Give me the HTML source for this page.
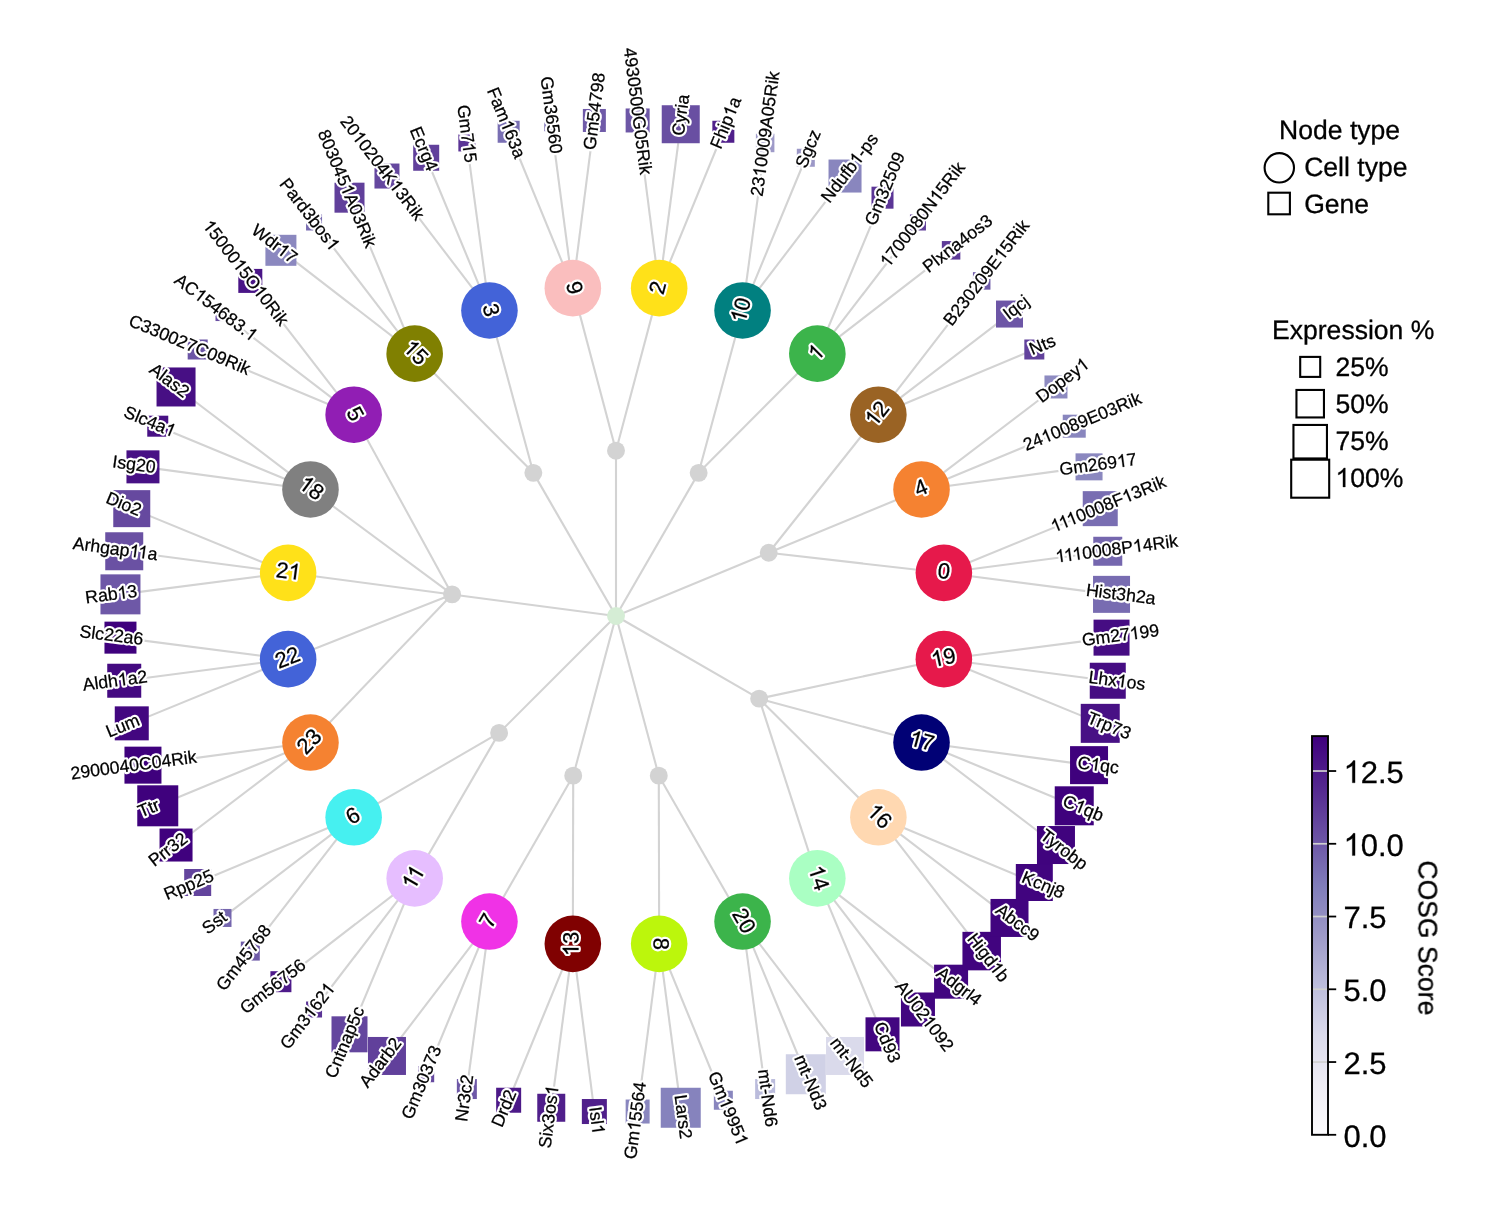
<!DOCTYPE html>
<html><head><meta charset="utf-8"><title>Chart</title>
<style>html,body{margin:0;padding:0;background:#fff;}body{width:1504px;height:1232px;position:relative;overflow:hidden;font-family:"Liberation Sans",sans-serif;}.s{fill:none;stroke:#fff;stroke-width:4.6;stroke-linejoin:round;}.f{fill:#000;stroke:#000;stroke-width:.25;}</style>
</head><body>
<svg width="1504" height="1232" viewBox="0 0 1504 1232" style="position:absolute;left:0;top:0;text-rendering:geometricPrecision;font-family:'Liberation Sans',sans-serif">
<rect width="1504" height="1232" fill="#fff"/>
<g style="opacity:0.999">
<defs><path id="o0" d="M6.60,-0.00 L5.04,-0.00 L5.04,-9.92 Q4.48,-9.38 3.56,-8.85 Q2.65,-8.31 1.93,-8.04 L1.93,-9.55 Q3.23,-10.16 4.21,-11.03 Q5.19,-11.91 5.59,-12.73 L6.60,-12.73 Z"/><path id="o1" d="M8.25,-0.00 L6.30,-0.00 L6.30,-12.40 Q5.60,-11.73 4.45,-11.06 Q3.32,-10.39 2.41,-10.05 L2.41,-11.93 Q4.04,-12.70 5.26,-13.79 Q6.49,-14.89 6.99,-15.91 L8.25,-15.91 Z"/><path id="o2" d="M9.90,-0.00 L7.56,-0.00 L7.56,-14.88 Q6.72,-14.07 5.34,-13.27 Q3.98,-12.46 2.89,-12.06 L2.89,-14.32 Q4.85,-15.24 6.32,-16.55 Q7.78,-17.86 8.39,-19.09 L9.90,-19.09 Z"/><path id="o3" d="M11.55,-0.00 L8.82,-0.00 L8.82,-17.36 Q7.84,-16.42 6.24,-15.48 Q4.65,-14.55 3.38,-14.08 L3.38,-16.71 Q5.66,-17.79 7.37,-19.31 Q9.08,-20.84 9.79,-22.28 L11.55,-22.28 Z"/><g id="L0"><text y="4.58" font-size="17.71"><tspan x="-34.95">Hist3h2a</tspan></text></g><g id="L1"><text y="4.58" font-size="17.71"><tspan x="-34.78">0008P</tspan><tspan x="26.28">4Rik</tspan></text><use href="#o0" x="-61.70" y="4.58"/><use href="#o0" x="-53.17" y="4.58"/><use href="#o0" x="-44.63" y="4.58"/><use href="#o0" x="16.43" y="4.58"/></g><g id="L2"><text y="4.58" font-size="17.71"><tspan x="-34.29">0008F</tspan><tspan x="25.78">3Rik</tspan></text><use href="#o0" x="-61.21" y="4.58"/><use href="#o0" x="-52.67" y="4.58"/><use href="#o0" x="-44.14" y="4.58"/><use href="#o0" x="15.93" y="4.58"/></g><g id="L3"><text y="4.58" font-size="17.71"><tspan x="-38.89">Gm269</tspan><tspan x="29.04">7</tspan></text><use href="#o0" x="19.19" y="4.58"/></g><g id="L4"><text y="4.58" font-size="17.71"><tspan x="-63.02">24</tspan><tspan x="-33.47">0089E03Rik</tspan></text><use href="#o0" x="-43.32" y="4.58"/></g><g id="L5"><text y="4.58" font-size="17.71"><tspan x="-30.52">Dopey</tspan></text><use href="#o0" x="20.67" y="4.58"/></g><g id="L6"><text y="4.58" font-size="17.71"><tspan x="-13.28">Nts</tspan></text></g><g id="L7"><text y="4.58" font-size="17.71"><tspan x="-13.78">Iqcj</tspan></text></g><g id="L8"><text y="4.58" font-size="17.71"><tspan x="-64.00">B230209E</tspan><tspan x="28.57">5Rik</tspan></text><use href="#o0" x="18.72" y="4.58"/></g><g id="L9"><text y="4.58" font-size="17.71"><tspan x="-41.35">Plxna4os3</tspan></text></g><g id="L10"><text y="4.58" font-size="17.71"><tspan x="-53.66">700080N</tspan><tspan x="28.08">5Rik</tspan></text><use href="#o0" x="-63.51" y="4.58"/><use href="#o0" x="18.23" y="4.58"/></g><g id="L11"><text y="4.58" font-size="17.71"><tspan x="-38.89">Gm32509</tspan></text></g><g id="L12"><text y="4.58" font-size="17.71"><tspan x="-40.86">Ndufb</tspan><tspan x="16.25">-ps</tspan></text><use href="#o0" x="6.40" y="4.58"/></g><g id="L13"><text y="4.58" font-size="17.71"><tspan x="-19.69">Sgcz</tspan></text></g><g id="L14"><text y="4.58" font-size="17.71"><tspan x="-63.02">23</tspan><tspan x="-33.47">0009A05Rik</tspan></text><use href="#o0" x="-43.32" y="4.58"/></g><g id="L15"><text y="4.58" font-size="17.71"><tspan x="-27.08">Fhip</tspan><tspan x="17.23">a</tspan></text><use href="#o0" x="7.38" y="4.58"/></g><g id="L16"><text y="4.58" font-size="17.71"><tspan x="-20.66">Cyria</tspan></text></g><g id="L17"><text y="4.58" font-size="17.71"><tspan x="-64.00">4930500G05Rik</tspan></text></g><g id="L18"><text y="4.58" font-size="17.71"><tspan x="-38.89">Gm54798</tspan></text></g><g id="L19"><text y="4.58" font-size="17.71"><tspan x="-38.89">Gm36560</tspan></text></g><g id="L20"><text y="4.58" font-size="17.71"><tspan x="-37.41">Fam</tspan><tspan x="7.86">63a</tspan></text><use href="#o0" x="-1.99" y="4.58"/></g><g id="L21"><text y="4.58" font-size="17.71"><tspan x="-29.04">Gm7</tspan><tspan x="19.19">5</tspan></text><use href="#o0" x="9.34" y="4.58"/></g><g id="L22"><text y="4.58" font-size="17.71"><tspan x="-23.13">Ecrg4</tspan></text></g><g id="L23"><text y="4.58" font-size="17.71"><tspan x="-63.02">20</tspan><tspan x="-33.47">0204K</tspan><tspan x="27.59">3Rik</tspan></text><use href="#o0" x="-43.32" y="4.58"/><use href="#o0" x="17.74" y="4.58"/></g><g id="L24"><text y="4.58" font-size="17.71"><tspan x="-63.02">803045</tspan><tspan x="5.93">A03Rik</tspan></text><use href="#o0" x="-3.92" y="4.58"/></g><g id="L25"><text y="4.58" font-size="17.71"><tspan x="-42.83">Pard3bos</tspan></text><use href="#o0" x="32.98" y="4.58"/></g><g id="L26"><text y="4.58" font-size="17.71"><tspan x="-26.08">Wdr</tspan><tspan x="16.23">7</tspan></text><use href="#o0" x="6.38" y="4.58"/></g><g id="L27"><text y="4.58" font-size="17.71"><tspan x="-54.15">5000</tspan><tspan x="-4.90">5O</tspan><tspan x="28.57">0Rik</tspan></text><use href="#o0" x="-64.00" y="4.58"/><use href="#o0" x="-14.75" y="4.58"/><use href="#o0" x="18.72" y="4.58"/></g><g id="L28"><text y="4.58" font-size="17.71"><tspan x="-49.23">AC</tspan><tspan x="-14.78">54683.</tspan></text><use href="#o0" x="-24.63" y="4.58"/><use href="#o0" x="39.39" y="4.58"/></g><g id="L29"><text y="4.58" font-size="17.71"><tspan x="-64.98">C330027C09Rik</tspan></text></g><g id="L30"><text y="4.58" font-size="17.71"><tspan x="-22.15">Alas2</tspan></text></g><g id="L31"><text y="4.58" font-size="17.71"><tspan x="-27.08">Slc4a</tspan></text><use href="#o0" x="17.23" y="4.58"/></g><g id="L32"><text y="4.58" font-size="17.71"><tspan x="-21.66">Isg20</tspan></text></g><g id="L33"><text y="4.58" font-size="17.71"><tspan x="-18.21">Dio2</tspan></text></g><g id="L34"><text y="4.58" font-size="17.71"><tspan x="-42.67">Arhgap</tspan><tspan x="32.82">a</tspan></text><use href="#o0" x="14.44" y="4.58"/><use href="#o0" x="22.97" y="4.58"/></g><g id="L35"><text y="4.58" font-size="17.71"><tspan x="-26.09">Rab</tspan><tspan x="16.24">3</tspan></text><use href="#o0" x="6.39" y="4.58"/></g><g id="L36"><text y="4.58" font-size="17.71"><tspan x="-32.00">Slc22a6</tspan></text></g><g id="L37"><text y="4.58" font-size="17.71"><tspan x="-32.50">Aldh</tspan><tspan x="12.80">a2</tspan></text><use href="#o0" x="2.95" y="4.58"/></g><g id="L38"><text y="4.58" font-size="17.71"><tspan x="-17.23">Lum</tspan></text></g><g id="L39"><text y="4.58" font-size="17.71"><tspan x="-63.51">2900040C04Rik</tspan></text></g><g id="L40"><text y="4.58" font-size="17.71"><tspan x="-10.82">Ttr</tspan></text></g><g id="L41"><text y="4.58" font-size="17.71"><tspan x="-21.65">Prr32</tspan></text></g><g id="L42"><text y="4.58" font-size="17.71"><tspan x="-26.09">Rpp25</tspan></text></g><g id="L43"><text y="4.58" font-size="17.71"><tspan x="-12.79">Sst</tspan></text></g><g id="L44"><text y="4.58" font-size="17.71"><tspan x="-38.89">Gm45768</tspan></text></g><g id="L45"><text y="4.58" font-size="17.71"><tspan x="-38.89">Gm56756</tspan></text></g><g id="L46"><text y="4.58" font-size="17.71"><tspan x="-38.89">Gm3</tspan><tspan x="9.34">62</tspan></text><use href="#o0" x="-0.51" y="4.58"/><use href="#o0" x="29.04" y="4.58"/></g><g id="L47"><text y="4.58" font-size="17.71"><tspan x="-37.91">Cntnap5c</tspan></text></g><g id="L48"><text y="4.58" font-size="17.71"><tspan x="-28.55">Adarb2</tspan></text></g><g id="L49"><text y="4.58" font-size="17.71"><tspan x="-38.89">Gm30373</tspan></text></g><g id="L50"><text y="4.58" font-size="17.71"><tspan x="-23.62">Nr3c2</tspan></text></g><g id="L51"><text y="4.58" font-size="17.71"><tspan x="-19.19">Drd2</tspan></text></g><g id="L52"><text y="4.58" font-size="17.71"><tspan x="-31.50">Six3os</tspan></text><use href="#o0" x="21.65" y="4.58"/></g><g id="L53"><text y="4.58" font-size="17.71"><tspan x="-13.78">Isl</tspan></text><use href="#o0" x="3.93" y="4.58"/></g><g id="L54"><text y="4.58" font-size="17.71"><tspan x="-38.89">Gm</tspan><tspan x="-0.51">5564</tspan></text><use href="#o0" x="-10.36" y="4.58"/></g><g id="L55"><text y="4.58" font-size="17.71"><tspan x="-22.15">Lars2</tspan></text></g><g id="L56"><text y="4.58" font-size="17.71"><tspan x="-38.89">Gm</tspan><tspan x="-0.51">995</tspan></text><use href="#o0" x="-10.36" y="4.58"/><use href="#o0" x="29.04" y="4.58"/></g><g id="L57"><text y="4.58" font-size="17.71"><tspan x="-29.03">mt-Nd6</tspan></text></g><g id="L58"><text y="4.58" font-size="17.71"><tspan x="-29.03">mt-Nd3</tspan></text></g><g id="L59"><text y="4.58" font-size="17.71"><tspan x="-29.03">mt-Nd5</tspan></text></g><g id="L60"><text y="4.58" font-size="17.71"><tspan x="-21.17">Cd93</tspan></text></g><g id="L61"><text y="4.58" font-size="17.71"><tspan x="-41.85">AU02</tspan><tspan x="12.30">092</tspan></text><use href="#o0" x="2.45" y="4.58"/></g><g id="L62"><text y="4.58" font-size="17.71"><tspan x="-25.60">Adgrl4</tspan></text></g><g id="L63"><text y="4.58" font-size="17.71"><tspan x="-28.06">Higd</tspan><tspan x="18.21">b</tspan></text><use href="#o0" x="8.36" y="4.58"/></g><g id="L64"><text y="4.58" font-size="17.71"><tspan x="-24.61">Abcc9</tspan></text></g><g id="L65"><text y="4.58" font-size="17.71"><tspan x="-22.15">Kcnj8</tspan></text></g><g id="L66"><text y="4.58" font-size="17.71"><tspan x="-27.07">Tyrobp</tspan></text></g><g id="L67"><text y="4.58" font-size="17.71"><tspan x="-21.17">C</tspan><tspan x="1.47">qb</tspan></text><use href="#o0" x="-8.38" y="4.58"/></g><g id="L68"><text y="4.58" font-size="17.71"><tspan x="-20.67">C</tspan><tspan x="1.97">qc</tspan></text><use href="#o0" x="-7.88" y="4.58"/></g><g id="L69"><text y="4.58" font-size="17.71"><tspan x="-22.80">Trp73</tspan></text></g><g id="L70"><text y="4.58" font-size="17.71"><tspan x="-28.55">Lhx</tspan><tspan x="9.85">os</tspan></text><use href="#o0" x="0.00" y="4.58"/></g><g id="L71"><text y="4.58" font-size="17.71"><tspan x="-38.89">Gm27</tspan><tspan x="19.19">99</tspan></text><use href="#o0" x="9.34" y="4.58"/></g><g id="L72"><text y="5.72" font-size="22.14"><tspan x="-6.16">0</tspan></text></g><g id="L73"><text y="5.72" font-size="22.14"><tspan x="-6.16">4</tspan></text></g><g id="L74"><text y="5.72" font-size="22.14"><tspan x="0.00">2</tspan></text><use href="#o1" x="-12.31" y="5.72"/></g><g id="L75"><use href="#o1" x="-6.16" y="5.72"/></g><g id="L76"><text y="5.72" font-size="22.14"><tspan x="0.00">0</tspan></text><use href="#o1" x="-12.31" y="5.72"/></g><g id="L77"><text y="5.72" font-size="22.14"><tspan x="-6.16">2</tspan></text></g><g id="L78"><text y="5.72" font-size="22.14"><tspan x="-6.16">9</tspan></text></g><g id="L79"><text y="5.72" font-size="22.14"><tspan x="-6.16">3</tspan></text></g><g id="L80"><text y="5.72" font-size="22.14"><tspan x="0.00">5</tspan></text><use href="#o1" x="-12.31" y="5.72"/></g><g id="L81"><text y="5.72" font-size="22.14"><tspan x="-6.16">5</tspan></text></g><g id="L82"><text y="5.72" font-size="22.14"><tspan x="0.00">8</tspan></text><use href="#o1" x="-12.31" y="5.72"/></g><g id="L83"><text y="5.72" font-size="22.14"><tspan x="-12.31">2</tspan></text><use href="#o1" x="0.00" y="5.72"/></g><g id="L84"><text y="5.72" font-size="22.14"><tspan x="-12.31">22</tspan></text></g><g id="L85"><text y="5.72" font-size="22.14"><tspan x="-12.31">23</tspan></text></g><g id="L86"><text y="5.72" font-size="22.14"><tspan x="-6.16">6</tspan></text></g><g id="L87"><use href="#o1" x="-11.49" y="5.72"/><use href="#o1" x="-0.82" y="5.72"/></g><g id="L88"><text y="5.72" font-size="22.14"><tspan x="-6.16">7</tspan></text></g><g id="L89"><text y="5.72" font-size="22.14"><tspan x="0.00">3</tspan></text><use href="#o1" x="-12.31" y="5.72"/></g><g id="L90"><text y="5.72" font-size="22.14"><tspan x="-6.16">8</tspan></text></g><g id="L91"><text y="5.72" font-size="22.14"><tspan x="-12.31">20</tspan></text></g><g id="L92"><text y="5.72" font-size="22.14"><tspan x="0.00">4</tspan></text><use href="#o1" x="-12.31" y="5.72"/></g><g id="L93"><text y="5.72" font-size="22.14"><tspan x="0.00">6</tspan></text><use href="#o1" x="-12.31" y="5.72"/></g><g id="L94"><text y="5.72" font-size="22.14"><tspan x="0.00">7</tspan></text><use href="#o1" x="-12.31" y="5.72"/></g><g id="L95"><text y="5.72" font-size="22.14"><tspan x="0.00">9</tspan></text><use href="#o1" x="-12.31" y="5.72"/></g></defs>
<g stroke="#d3d3d3" stroke-width="2.1" fill="none" stroke-linecap="butt">
<line x1="616.00" y1="616.00" x2="768.72" y2="552.74"/>
<line x1="616.00" y1="616.00" x2="698.65" y2="472.85"/>
<line x1="616.00" y1="616.00" x2="616.00" y2="450.70"/>
<line x1="616.00" y1="616.00" x2="533.35" y2="472.85"/>
<line x1="616.00" y1="616.00" x2="452.11" y2="594.42"/>
<line x1="616.00" y1="616.00" x2="499.12" y2="732.88"/>
<line x1="616.00" y1="616.00" x2="573.22" y2="775.67"/>
<line x1="616.00" y1="616.00" x2="658.78" y2="775.67"/>
<line x1="616.00" y1="616.00" x2="759.15" y2="698.65"/>
<line x1="768.72" y1="552.74" x2="943.87" y2="572.83"/>
<line x1="768.72" y1="552.74" x2="921.53" y2="489.45"/>
<line x1="768.72" y1="552.74" x2="878.36" y2="414.68"/>
<line x1="698.65" y1="472.85" x2="817.32" y2="353.64"/>
<line x1="698.65" y1="472.85" x2="742.55" y2="310.47"/>
<line x1="616.00" y1="450.70" x2="659.17" y2="288.13"/>
<line x1="616.00" y1="450.70" x2="572.83" y2="288.13"/>
<line x1="533.35" y1="472.85" x2="489.45" y2="310.47"/>
<line x1="533.35" y1="472.85" x2="414.68" y2="353.64"/>
<line x1="452.11" y1="594.42" x2="353.64" y2="414.68"/>
<line x1="452.11" y1="594.42" x2="310.47" y2="489.45"/>
<line x1="452.11" y1="594.42" x2="288.13" y2="572.83"/>
<line x1="452.11" y1="594.42" x2="288.13" y2="659.17"/>
<line x1="452.11" y1="594.42" x2="310.47" y2="742.55"/>
<line x1="499.12" y1="732.88" x2="353.64" y2="817.32"/>
<line x1="499.12" y1="732.88" x2="414.68" y2="878.36"/>
<line x1="573.22" y1="775.67" x2="489.45" y2="921.53"/>
<line x1="573.22" y1="775.67" x2="572.83" y2="943.87"/>
<line x1="658.78" y1="775.67" x2="659.17" y2="943.87"/>
<line x1="658.78" y1="775.67" x2="742.55" y2="921.53"/>
<line x1="759.15" y1="698.65" x2="817.32" y2="878.36"/>
<line x1="759.15" y1="698.65" x2="878.36" y2="817.32"/>
<line x1="759.15" y1="698.65" x2="921.53" y2="742.55"/>
<line x1="759.15" y1="698.65" x2="943.87" y2="659.17"/>
<line x1="943.87" y1="572.83" x2="1111.53" y2="594.36"/>
<line x1="943.87" y1="572.83" x2="1107.76" y2="551.26"/>
<line x1="943.87" y1="572.83" x2="1100.24" y2="508.65"/>
<line x1="921.53" y1="489.45" x2="1089.04" y2="466.85"/>
<line x1="921.53" y1="489.45" x2="1074.24" y2="426.19"/>
<line x1="921.53" y1="489.45" x2="1055.96" y2="386.97"/>
<line x1="878.36" y1="414.68" x2="1034.32" y2="349.50"/>
<line x1="878.36" y1="414.68" x2="1009.50" y2="314.05"/>
<line x1="878.36" y1="414.68" x2="981.69" y2="280.91"/>
<line x1="817.32" y1="353.64" x2="951.09" y2="250.31"/>
<line x1="817.32" y1="353.64" x2="917.95" y2="222.50"/>
<line x1="817.32" y1="353.64" x2="882.50" y2="197.68"/>
<line x1="742.55" y1="310.47" x2="845.03" y2="176.04"/>
<line x1="742.55" y1="310.47" x2="805.81" y2="157.76"/>
<line x1="742.55" y1="310.47" x2="765.15" y2="142.96"/>
<line x1="659.17" y1="288.13" x2="723.35" y2="131.76"/>
<line x1="659.17" y1="288.13" x2="680.74" y2="124.24"/>
<line x1="659.17" y1="288.13" x2="637.64" y2="120.47"/>
<line x1="572.83" y1="288.13" x2="594.36" y2="120.47"/>
<line x1="572.83" y1="288.13" x2="551.26" y2="124.24"/>
<line x1="572.83" y1="288.13" x2="508.65" y2="131.76"/>
<line x1="489.45" y1="310.47" x2="466.85" y2="142.96"/>
<line x1="489.45" y1="310.47" x2="426.19" y2="157.76"/>
<line x1="489.45" y1="310.47" x2="386.97" y2="176.04"/>
<line x1="414.68" y1="353.64" x2="349.50" y2="197.68"/>
<line x1="414.68" y1="353.64" x2="314.05" y2="222.50"/>
<line x1="414.68" y1="353.64" x2="280.91" y2="250.31"/>
<line x1="353.64" y1="414.68" x2="250.31" y2="280.91"/>
<line x1="353.64" y1="414.68" x2="222.50" y2="314.05"/>
<line x1="353.64" y1="414.68" x2="197.68" y2="349.50"/>
<line x1="310.47" y1="489.45" x2="176.04" y2="386.97"/>
<line x1="310.47" y1="489.45" x2="157.76" y2="426.19"/>
<line x1="310.47" y1="489.45" x2="142.96" y2="466.85"/>
<line x1="288.13" y1="572.83" x2="131.76" y2="508.65"/>
<line x1="288.13" y1="572.83" x2="124.24" y2="551.26"/>
<line x1="288.13" y1="572.83" x2="120.47" y2="594.36"/>
<line x1="288.13" y1="659.17" x2="120.47" y2="637.64"/>
<line x1="288.13" y1="659.17" x2="124.24" y2="680.74"/>
<line x1="288.13" y1="659.17" x2="131.76" y2="723.35"/>
<line x1="310.47" y1="742.55" x2="142.96" y2="765.15"/>
<line x1="310.47" y1="742.55" x2="157.76" y2="805.81"/>
<line x1="310.47" y1="742.55" x2="176.04" y2="845.03"/>
<line x1="353.64" y1="817.32" x2="197.68" y2="882.50"/>
<line x1="353.64" y1="817.32" x2="222.50" y2="917.95"/>
<line x1="353.64" y1="817.32" x2="250.31" y2="951.09"/>
<line x1="414.68" y1="878.36" x2="280.91" y2="981.69"/>
<line x1="414.68" y1="878.36" x2="314.05" y2="1009.50"/>
<line x1="414.68" y1="878.36" x2="349.50" y2="1034.32"/>
<line x1="489.45" y1="921.53" x2="386.97" y2="1055.96"/>
<line x1="489.45" y1="921.53" x2="426.19" y2="1074.24"/>
<line x1="489.45" y1="921.53" x2="466.85" y2="1089.04"/>
<line x1="572.83" y1="943.87" x2="508.65" y2="1100.24"/>
<line x1="572.83" y1="943.87" x2="551.26" y2="1107.76"/>
<line x1="572.83" y1="943.87" x2="594.36" y2="1111.53"/>
<line x1="659.17" y1="943.87" x2="637.64" y2="1111.53"/>
<line x1="659.17" y1="943.87" x2="680.74" y2="1107.76"/>
<line x1="659.17" y1="943.87" x2="723.35" y2="1100.24"/>
<line x1="742.55" y1="921.53" x2="765.15" y2="1089.04"/>
<line x1="742.55" y1="921.53" x2="805.81" y2="1074.24"/>
<line x1="742.55" y1="921.53" x2="845.03" y2="1055.96"/>
<line x1="817.32" y1="878.36" x2="882.50" y2="1034.32"/>
<line x1="817.32" y1="878.36" x2="917.95" y2="1009.50"/>
<line x1="817.32" y1="878.36" x2="951.09" y2="981.69"/>
<line x1="878.36" y1="817.32" x2="981.69" y2="951.09"/>
<line x1="878.36" y1="817.32" x2="1009.50" y2="917.95"/>
<line x1="878.36" y1="817.32" x2="1034.32" y2="882.50"/>
<line x1="921.53" y1="742.55" x2="1055.96" y2="845.03"/>
<line x1="921.53" y1="742.55" x2="1074.24" y2="805.81"/>
<line x1="921.53" y1="742.55" x2="1089.04" y2="765.15"/>
<line x1="943.87" y1="659.17" x2="1100.24" y2="723.35"/>
<line x1="943.87" y1="659.17" x2="1107.76" y2="680.74"/>
<line x1="943.87" y1="659.17" x2="1111.53" y2="637.64"/>
</g>
<circle cx="616.0" cy="616.0" r="8.95" fill="#d5edd5"/>
<circle cx="768.72" cy="552.74" r="8.95" fill="#d3d3d3"/>
<circle cx="698.65" cy="472.85" r="8.95" fill="#d3d3d3"/>
<circle cx="616.00" cy="450.70" r="8.95" fill="#d3d3d3"/>
<circle cx="533.35" cy="472.85" r="8.95" fill="#d3d3d3"/>
<circle cx="452.11" cy="594.42" r="8.95" fill="#d3d3d3"/>
<circle cx="499.12" cy="732.88" r="8.95" fill="#d3d3d3"/>
<circle cx="573.22" cy="775.67" r="8.95" fill="#d3d3d3"/>
<circle cx="658.78" cy="775.67" r="8.95" fill="#d3d3d3"/>
<circle cx="759.15" cy="698.65" r="8.95" fill="#d3d3d3"/>
<rect x="1093.03" y="575.86" width="37" height="37" fill="#786cb1"/>
<rect x="1093.26" y="536.76" width="29" height="29" fill="#7567ae"/>
<rect x="1082.74" y="491.15" width="35" height="35" fill="#796eb2"/>
<rect x="1075.54" y="453.35" width="27" height="27" fill="#8b88bf"/>
<rect x="1062.74" y="414.69" width="23" height="23" fill="#8986be"/>
<rect x="1044.46" y="375.47" width="23" height="23" fill="#8e8bc1"/>
<rect x="1024.32" y="339.50" width="20" height="20" fill="#62429c"/>
<rect x="996.00" y="300.55" width="27" height="27" fill="#6d56a6"/>
<rect x="972.94" y="272.16" width="17.5" height="17.5" fill="#705da9"/>
<rect x="941.84" y="241.06" width="18.5" height="18.5" fill="#5e3b98"/>
<rect x="909.95" y="214.50" width="16" height="16" fill="#603f9a"/>
<rect x="871.50" y="186.68" width="22" height="22" fill="#5b3596"/>
<rect x="828.53" y="159.54" width="33" height="33" fill="#8986be"/>
<rect x="796.81" y="148.76" width="18" height="18" fill="#9c98c7"/>
<rect x="755.90" y="133.71" width="18.5" height="18.5" fill="#9e9ac8"/>
<rect x="712.35" y="120.76" width="22" height="22" fill="#501f8b"/>
<rect x="661.74" y="105.24" width="38" height="38" fill="#694fa2"/>
<rect x="625.64" y="108.47" width="24" height="24" fill="#6d57a6"/>
<rect x="582.86" y="108.97" width="23" height="23" fill="#6f5aa8"/>
<rect x="544.26" y="117.24" width="14" height="14" fill="#796eb2"/>
<rect x="497.65" y="120.76" width="22" height="22" fill="#796fb3"/>
<rect x="458.35" y="134.46" width="17" height="17" fill="#5b3596"/>
<rect x="413.19" y="144.76" width="26" height="26" fill="#61409b"/>
<rect x="374.47" y="163.54" width="25" height="25" fill="#65489f"/>
<rect x="334.50" y="182.68" width="30" height="30" fill="#61409b"/>
<rect x="306.05" y="214.50" width="16" height="16" fill="#786cb1"/>
<rect x="265.41" y="234.81" width="31" height="31" fill="#8b88bf"/>
<rect x="238.31" y="268.91" width="24" height="24" fill="#4a1587"/>
<rect x="215.50" y="307.05" width="14" height="14" fill="#694fa2"/>
<rect x="187.68" y="339.50" width="20" height="20" fill="#6c56a6"/>
<rect x="156.54" y="367.47" width="39" height="39" fill="#470f84"/>
<rect x="147.26" y="415.69" width="21" height="21" fill="#481185"/>
<rect x="126.46" y="450.35" width="33" height="33" fill="#481185"/>
<rect x="113.26" y="490.15" width="37" height="37" fill="#66499f"/>
<rect x="105.24" y="532.26" width="38" height="38" fill="#6a51a3"/>
<rect x="100.47" y="574.36" width="40" height="40" fill="#6e58a7"/>
<rect x="104.47" y="621.64" width="32" height="32" fill="#3f007d"/>
<rect x="107.24" y="663.74" width="34" height="34" fill="#440a81"/>
<rect x="114.76" y="706.35" width="34" height="34" fill="#430780"/>
<rect x="124.46" y="746.65" width="37" height="37" fill="#3f007d"/>
<rect x="137.26" y="785.31" width="41" height="41" fill="#3f007d"/>
<rect x="159.54" y="828.53" width="33" height="33" fill="#40017e"/>
<rect x="184.18" y="869.00" width="27" height="27" fill="#63449d"/>
<rect x="213.50" y="908.95" width="18" height="18" fill="#7566ae"/>
<rect x="240.81" y="941.59" width="19" height="19" fill="#6f5ba8"/>
<rect x="270.41" y="971.19" width="21" height="21" fill="#4e1b8a"/>
<rect x="306.05" y="1001.50" width="16" height="16" fill="#5b3495"/>
<rect x="331.50" y="1016.32" width="36" height="36" fill="#64469e"/>
<rect x="367.97" y="1036.96" width="38" height="38" fill="#61409b"/>
<rect x="418.19" y="1066.24" width="16" height="16" fill="#66499f"/>
<rect x="456.85" y="1079.04" width="20" height="20" fill="#6e58a7"/>
<rect x="496.15" y="1087.74" width="25" height="25" fill="#4c1988"/>
<rect x="537.26" y="1093.76" width="28" height="28" fill="#501f8b"/>
<rect x="581.86" y="1099.03" width="25" height="25" fill="#501f8b"/>
<rect x="625.64" y="1099.53" width="24" height="24" fill="#8a87bf"/>
<rect x="660.74" y="1087.76" width="40" height="40" fill="#8683bd"/>
<rect x="713.85" y="1090.74" width="19" height="19" fill="#8986be"/>
<rect x="755.15" y="1079.04" width="20" height="20" fill="#bbbcdc"/>
<rect x="785.81" y="1054.24" width="40" height="40" fill="#d0d1e6"/>
<rect x="826.03" y="1036.96" width="38" height="38" fill="#dadaeb"/>
<rect x="865.50" y="1017.32" width="34" height="34" fill="#420680"/>
<rect x="900.95" y="992.50" width="34" height="34" fill="#420680"/>
<rect x="934.09" y="964.69" width="34" height="34" fill="#420680"/>
<rect x="962.44" y="931.84" width="38.5" height="38.5" fill="#41047f"/>
<rect x="990.50" y="898.95" width="38" height="38" fill="#41047f"/>
<rect x="1015.82" y="864.00" width="37" height="37" fill="#41047f"/>
<rect x="1036.96" y="826.03" width="38" height="38" fill="#40037e"/>
<rect x="1054.74" y="786.31" width="39" height="39" fill="#3f007d"/>
<rect x="1070.04" y="746.15" width="38" height="38" fill="#3f007d"/>
<rect x="1080.74" y="703.85" width="39" height="39" fill="#481185"/>
<rect x="1089.76" y="662.74" width="36" height="36" fill="#460d83"/>
<rect x="1093.53" y="619.64" width="36" height="36" fill="#460d83"/>
<circle cx="943.87" cy="572.83" r="28.3" fill="#e6194b"/>
<circle cx="921.53" cy="489.45" r="28.3" fill="#f58231"/>
<circle cx="878.36" cy="414.68" r="28.3" fill="#9a6324"/>
<circle cx="817.32" cy="353.64" r="28.3" fill="#3cb44b"/>
<circle cx="742.55" cy="310.47" r="28.3" fill="#008080"/>
<circle cx="659.17" cy="288.13" r="28.3" fill="#ffe119"/>
<circle cx="572.83" cy="288.13" r="28.3" fill="#fabebe"/>
<circle cx="489.45" cy="310.47" r="28.3" fill="#4363d8"/>
<circle cx="414.68" cy="353.64" r="28.3" fill="#808000"/>
<circle cx="353.64" cy="414.68" r="28.3" fill="#911eb4"/>
<circle cx="310.47" cy="489.45" r="28.3" fill="#808080"/>
<circle cx="288.13" cy="572.83" r="28.3" fill="#ffe119"/>
<circle cx="288.13" cy="659.17" r="28.3" fill="#4363d8"/>
<circle cx="310.47" cy="742.55" r="28.3" fill="#f58231"/>
<circle cx="353.64" cy="817.32" r="28.3" fill="#46f0f0"/>
<circle cx="414.68" cy="878.36" r="28.3" fill="#e6beff"/>
<circle cx="489.45" cy="921.53" r="28.3" fill="#f032e6"/>
<circle cx="572.83" cy="943.87" r="28.3" fill="#800000"/>
<circle cx="659.17" cy="943.87" r="28.3" fill="#bcf60c"/>
<circle cx="742.55" cy="921.53" r="28.3" fill="#3cb44b"/>
<circle cx="817.32" cy="878.36" r="28.3" fill="#aaffc3"/>
<circle cx="878.36" cy="817.32" r="28.3" fill="#ffd8b1"/>
<circle cx="921.53" cy="742.55" r="28.3" fill="#000075"/>
<circle cx="943.87" cy="659.17" r="28.3" fill="#e6194b"/>
<g>
<use href="#L0" class="s" transform="translate(1120.65,595.54) rotate(7.32)"/><use href="#L0" class="f" transform="translate(1120.65,595.54) rotate(7.32)"/>
<use href="#L1" class="s" transform="translate(1116.88,550.06) rotate(-7.50)"/><use href="#L1" class="f" transform="translate(1116.88,550.06) rotate(-7.50)"/>
<use href="#L2" class="s" transform="translate(1108.75,505.15) rotate(-22.32)"/><use href="#L2" class="f" transform="translate(1108.75,505.15) rotate(-22.32)"/>
<use href="#L3" class="s" transform="translate(1098.16,465.62) rotate(-7.68)"/><use href="#L3" class="f" transform="translate(1098.16,465.62) rotate(-7.68)"/>
<use href="#L4" class="s" transform="translate(1082.74,422.67) rotate(-22.50)"/><use href="#L4" class="f" transform="translate(1082.74,422.67) rotate(-22.50)"/>
<use href="#L5" class="s" transform="translate(1063.27,381.40) rotate(-37.32)"/><use href="#L5" class="f" transform="translate(1063.27,381.40) rotate(-37.32)"/>
<use href="#L6" class="s" transform="translate(1042.81,345.95) rotate(-22.68)"/><use href="#L6" class="f" transform="translate(1042.81,345.95) rotate(-22.68)"/>
<use href="#L7" class="s" transform="translate(1016.80,308.45) rotate(-37.50)"/><use href="#L7" class="f" transform="translate(1016.80,308.45) rotate(-37.50)"/>
<use href="#L8" class="s" transform="translate(987.31,273.63) rotate(-52.32)"/><use href="#L8" class="f" transform="translate(987.31,273.63) rotate(-52.32)"/>
<use href="#L9" class="s" transform="translate(958.37,244.69) rotate(-37.68)"/><use href="#L9" class="f" transform="translate(958.37,244.69) rotate(-37.68)"/>
<use href="#L10" class="s" transform="translate(923.55,215.20) rotate(-52.50)"/><use href="#L10" class="f" transform="translate(923.55,215.20) rotate(-52.50)"/>
<use href="#L11" class="s" transform="translate(886.05,189.19) rotate(-67.32)"/><use href="#L11" class="f" transform="translate(886.05,189.19) rotate(-67.32)"/>
<use href="#L12" class="s" transform="translate(850.60,168.73) rotate(-52.68)"/><use href="#L12" class="f" transform="translate(850.60,168.73) rotate(-52.68)"/>
<use href="#L13" class="s" transform="translate(809.33,149.26) rotate(-67.50)"/><use href="#L13" class="f" transform="translate(809.33,149.26) rotate(-67.50)"/>
<use href="#L14" class="s" transform="translate(766.38,133.84) rotate(-82.32)"/><use href="#L14" class="f" transform="translate(766.38,133.84) rotate(-82.32)"/>
<use href="#L15" class="s" transform="translate(726.85,123.25) rotate(-67.68)"/><use href="#L15" class="f" transform="translate(726.85,123.25) rotate(-67.68)"/>
<use href="#L16" class="s" transform="translate(681.94,115.12) rotate(-82.50)"/><use href="#L16" class="f" transform="translate(681.94,115.12) rotate(-82.50)"/>
<use href="#L17" class="s" transform="translate(636.46,111.35) rotate(82.68)"/><use href="#L17" class="f" transform="translate(636.46,111.35) rotate(82.68)"/>
<use href="#L18" class="s" transform="translate(595.54,111.35) rotate(-82.68)"/><use href="#L18" class="f" transform="translate(595.54,111.35) rotate(-82.68)"/>
<use href="#L19" class="s" transform="translate(550.06,115.12) rotate(82.50)"/><use href="#L19" class="f" transform="translate(550.06,115.12) rotate(82.50)"/>
<use href="#L20" class="s" transform="translate(505.15,123.25) rotate(67.68)"/><use href="#L20" class="f" transform="translate(505.15,123.25) rotate(67.68)"/>
<use href="#L21" class="s" transform="translate(465.62,133.84) rotate(82.32)"/><use href="#L21" class="f" transform="translate(465.62,133.84) rotate(82.32)"/>
<use href="#L22" class="s" transform="translate(422.67,149.26) rotate(67.50)"/><use href="#L22" class="f" transform="translate(422.67,149.26) rotate(67.50)"/>
<use href="#L23" class="s" transform="translate(381.40,168.73) rotate(52.68)"/><use href="#L23" class="f" transform="translate(381.40,168.73) rotate(52.68)"/>
<use href="#L24" class="s" transform="translate(345.95,189.19) rotate(67.32)"/><use href="#L24" class="f" transform="translate(345.95,189.19) rotate(67.32)"/>
<use href="#L25" class="s" transform="translate(308.45,215.20) rotate(52.50)"/><use href="#L25" class="f" transform="translate(308.45,215.20) rotate(52.50)"/>
<use href="#L26" class="s" transform="translate(273.63,244.69) rotate(37.68)"/><use href="#L26" class="f" transform="translate(273.63,244.69) rotate(37.68)"/>
<use href="#L27" class="s" transform="translate(244.69,273.63) rotate(52.32)"/><use href="#L27" class="f" transform="translate(244.69,273.63) rotate(52.32)"/>
<use href="#L28" class="s" transform="translate(215.20,308.45) rotate(37.50)"/><use href="#L28" class="f" transform="translate(215.20,308.45) rotate(37.50)"/>
<use href="#L29" class="s" transform="translate(189.19,345.95) rotate(22.68)"/><use href="#L29" class="f" transform="translate(189.19,345.95) rotate(22.68)"/>
<use href="#L30" class="s" transform="translate(168.73,381.40) rotate(37.32)"/><use href="#L30" class="f" transform="translate(168.73,381.40) rotate(37.32)"/>
<use href="#L31" class="s" transform="translate(149.26,422.67) rotate(22.50)"/><use href="#L31" class="f" transform="translate(149.26,422.67) rotate(22.50)"/>
<use href="#L32" class="s" transform="translate(133.84,465.62) rotate(7.68)"/><use href="#L32" class="f" transform="translate(133.84,465.62) rotate(7.68)"/>
<use href="#L33" class="s" transform="translate(123.25,505.15) rotate(22.32)"/><use href="#L33" class="f" transform="translate(123.25,505.15) rotate(22.32)"/>
<use href="#L34" class="s" transform="translate(115.12,550.06) rotate(7.50)"/><use href="#L34" class="f" transform="translate(115.12,550.06) rotate(7.50)"/>
<use href="#L35" class="s" transform="translate(111.35,595.54) rotate(-7.32)"/><use href="#L35" class="f" transform="translate(111.35,595.54) rotate(-7.32)"/>
<use href="#L36" class="s" transform="translate(111.35,636.46) rotate(7.32)"/><use href="#L36" class="f" transform="translate(111.35,636.46) rotate(7.32)"/>
<use href="#L37" class="s" transform="translate(115.12,681.94) rotate(-7.50)"/><use href="#L37" class="f" transform="translate(115.12,681.94) rotate(-7.50)"/>
<use href="#L38" class="s" transform="translate(123.25,726.85) rotate(-22.32)"/><use href="#L38" class="f" transform="translate(123.25,726.85) rotate(-22.32)"/>
<use href="#L39" class="s" transform="translate(133.84,766.38) rotate(-7.68)"/><use href="#L39" class="f" transform="translate(133.84,766.38) rotate(-7.68)"/>
<use href="#L40" class="s" transform="translate(149.26,809.33) rotate(-22.50)"/><use href="#L40" class="f" transform="translate(149.26,809.33) rotate(-22.50)"/>
<use href="#L41" class="s" transform="translate(168.73,850.60) rotate(-37.32)"/><use href="#L41" class="f" transform="translate(168.73,850.60) rotate(-37.32)"/>
<use href="#L42" class="s" transform="translate(189.19,886.05) rotate(-22.68)"/><use href="#L42" class="f" transform="translate(189.19,886.05) rotate(-22.68)"/>
<use href="#L43" class="s" transform="translate(215.20,923.55) rotate(-37.50)"/><use href="#L43" class="f" transform="translate(215.20,923.55) rotate(-37.50)"/>
<use href="#L44" class="s" transform="translate(244.69,958.37) rotate(-52.32)"/><use href="#L44" class="f" transform="translate(244.69,958.37) rotate(-52.32)"/>
<use href="#L45" class="s" transform="translate(273.63,987.31) rotate(-37.68)"/><use href="#L45" class="f" transform="translate(273.63,987.31) rotate(-37.68)"/>
<use href="#L46" class="s" transform="translate(308.45,1016.80) rotate(-52.50)"/><use href="#L46" class="f" transform="translate(308.45,1016.80) rotate(-52.50)"/>
<use href="#L47" class="s" transform="translate(345.95,1042.81) rotate(-67.32)"/><use href="#L47" class="f" transform="translate(345.95,1042.81) rotate(-67.32)"/>
<use href="#L48" class="s" transform="translate(381.40,1063.27) rotate(-52.68)"/><use href="#L48" class="f" transform="translate(381.40,1063.27) rotate(-52.68)"/>
<use href="#L49" class="s" transform="translate(422.67,1082.74) rotate(-67.50)"/><use href="#L49" class="f" transform="translate(422.67,1082.74) rotate(-67.50)"/>
<use href="#L50" class="s" transform="translate(465.62,1098.16) rotate(-82.32)"/><use href="#L50" class="f" transform="translate(465.62,1098.16) rotate(-82.32)"/>
<use href="#L51" class="s" transform="translate(505.15,1108.75) rotate(-67.68)"/><use href="#L51" class="f" transform="translate(505.15,1108.75) rotate(-67.68)"/>
<use href="#L52" class="s" transform="translate(550.06,1116.88) rotate(-82.50)"/><use href="#L52" class="f" transform="translate(550.06,1116.88) rotate(-82.50)"/>
<use href="#L53" class="s" transform="translate(595.54,1120.65) rotate(82.68)"/><use href="#L53" class="f" transform="translate(595.54,1120.65) rotate(82.68)"/>
<use href="#L54" class="s" transform="translate(636.46,1120.65) rotate(-82.68)"/><use href="#L54" class="f" transform="translate(636.46,1120.65) rotate(-82.68)"/>
<use href="#L55" class="s" transform="translate(681.94,1116.88) rotate(82.50)"/><use href="#L55" class="f" transform="translate(681.94,1116.88) rotate(82.50)"/>
<use href="#L56" class="s" transform="translate(726.85,1108.75) rotate(67.68)"/><use href="#L56" class="f" transform="translate(726.85,1108.75) rotate(67.68)"/>
<use href="#L57" class="s" transform="translate(766.38,1098.16) rotate(82.32)"/><use href="#L57" class="f" transform="translate(766.38,1098.16) rotate(82.32)"/>
<use href="#L58" class="s" transform="translate(809.33,1082.74) rotate(67.50)"/><use href="#L58" class="f" transform="translate(809.33,1082.74) rotate(67.50)"/>
<use href="#L59" class="s" transform="translate(850.60,1063.27) rotate(52.68)"/><use href="#L59" class="f" transform="translate(850.60,1063.27) rotate(52.68)"/>
<use href="#L60" class="s" transform="translate(886.05,1042.81) rotate(67.32)"/><use href="#L60" class="f" transform="translate(886.05,1042.81) rotate(67.32)"/>
<use href="#L61" class="s" transform="translate(923.55,1016.80) rotate(52.50)"/><use href="#L61" class="f" transform="translate(923.55,1016.80) rotate(52.50)"/>
<use href="#L62" class="s" transform="translate(958.37,987.31) rotate(37.68)"/><use href="#L62" class="f" transform="translate(958.37,987.31) rotate(37.68)"/>
<use href="#L63" class="s" transform="translate(987.31,958.37) rotate(52.32)"/><use href="#L63" class="f" transform="translate(987.31,958.37) rotate(52.32)"/>
<use href="#L64" class="s" transform="translate(1016.80,923.55) rotate(37.50)"/><use href="#L64" class="f" transform="translate(1016.80,923.55) rotate(37.50)"/>
<use href="#L65" class="s" transform="translate(1042.81,886.05) rotate(22.68)"/><use href="#L65" class="f" transform="translate(1042.81,886.05) rotate(22.68)"/>
<use href="#L66" class="s" transform="translate(1063.27,850.60) rotate(37.32)"/><use href="#L66" class="f" transform="translate(1063.27,850.60) rotate(37.32)"/>
<use href="#L67" class="s" transform="translate(1082.74,809.33) rotate(22.50)"/><use href="#L67" class="f" transform="translate(1082.74,809.33) rotate(22.50)"/>
<use href="#L68" class="s" transform="translate(1098.16,766.38) rotate(7.68)"/><use href="#L68" class="f" transform="translate(1098.16,766.38) rotate(7.68)"/>
<use href="#L69" class="s" transform="translate(1108.75,726.85) rotate(22.32)"/><use href="#L69" class="f" transform="translate(1108.75,726.85) rotate(22.32)"/>
<use href="#L70" class="s" transform="translate(1116.88,681.94) rotate(7.50)"/><use href="#L70" class="f" transform="translate(1116.88,681.94) rotate(7.50)"/>
<use href="#L71" class="s" transform="translate(1120.65,636.46) rotate(-7.32)"/><use href="#L71" class="f" transform="translate(1120.65,636.46) rotate(-7.32)"/>
<use href="#L72" class="s" transform="translate(943.87,572.83) rotate(6.54)"/><use href="#L72" class="f" transform="translate(943.87,572.83) rotate(6.54)"/>
<use href="#L73" class="s" transform="translate(921.53,489.45) rotate(-22.50)"/><use href="#L73" class="f" transform="translate(921.53,489.45) rotate(-22.50)"/>
<use href="#L74" class="s" transform="translate(878.36,414.68) rotate(-51.54)"/><use href="#L74" class="f" transform="translate(878.36,414.68) rotate(-51.54)"/>
<use href="#L75" class="s" transform="translate(817.32,353.64) rotate(-45.13)"/><use href="#L75" class="f" transform="translate(817.32,353.64) rotate(-45.13)"/>
<use href="#L76" class="s" transform="translate(742.55,310.47) rotate(-74.87)"/><use href="#L76" class="f" transform="translate(742.55,310.47) rotate(-74.87)"/>
<use href="#L77" class="s" transform="translate(659.17,288.13) rotate(-75.13)"/><use href="#L77" class="f" transform="translate(659.17,288.13) rotate(-75.13)"/>
<use href="#L78" class="s" transform="translate(572.83,288.13) rotate(75.13)"/><use href="#L78" class="f" transform="translate(572.83,288.13) rotate(75.13)"/>
<use href="#L79" class="s" transform="translate(489.45,310.47) rotate(74.87)"/><use href="#L79" class="f" transform="translate(489.45,310.47) rotate(74.87)"/>
<use href="#L80" class="s" transform="translate(414.68,353.64) rotate(45.13)"/><use href="#L80" class="f" transform="translate(414.68,353.64) rotate(45.13)"/>
<use href="#L81" class="s" transform="translate(353.64,414.68) rotate(61.28)"/><use href="#L81" class="f" transform="translate(353.64,414.68) rotate(61.28)"/>
<use href="#L82" class="s" transform="translate(310.47,489.45) rotate(36.54)"/><use href="#L82" class="f" transform="translate(310.47,489.45) rotate(36.54)"/>
<use href="#L83" class="s" transform="translate(288.13,572.83) rotate(7.50)"/><use href="#L83" class="f" transform="translate(288.13,572.83) rotate(7.50)"/>
<use href="#L84" class="s" transform="translate(288.13,659.17) rotate(-21.54)"/><use href="#L84" class="f" transform="translate(288.13,659.17) rotate(-21.54)"/>
<use href="#L85" class="s" transform="translate(310.47,742.55) rotate(-46.28)"/><use href="#L85" class="f" transform="translate(310.47,742.55) rotate(-46.28)"/>
<use href="#L86" class="s" transform="translate(353.64,817.32) rotate(-30.13)"/><use href="#L86" class="f" transform="translate(353.64,817.32) rotate(-30.13)"/>
<use href="#L87" class="s" transform="translate(414.68,878.36) rotate(-59.87)"/><use href="#L87" class="f" transform="translate(414.68,878.36) rotate(-59.87)"/>
<use href="#L88" class="s" transform="translate(489.45,921.53) rotate(-60.13)"/><use href="#L88" class="f" transform="translate(489.45,921.53) rotate(-60.13)"/>
<use href="#L89" class="s" transform="translate(572.83,943.87) rotate(-89.87)"/><use href="#L89" class="f" transform="translate(572.83,943.87) rotate(-89.87)"/>
<use href="#L90" class="s" transform="translate(659.17,943.87) rotate(89.87)"/><use href="#L90" class="f" transform="translate(659.17,943.87) rotate(89.87)"/>
<use href="#L91" class="s" transform="translate(742.55,921.53) rotate(60.13)"/><use href="#L91" class="f" transform="translate(742.55,921.53) rotate(60.13)"/>
<use href="#L92" class="s" transform="translate(817.32,878.36) rotate(72.07)"/><use href="#L92" class="f" transform="translate(817.32,878.36) rotate(72.07)"/>
<use href="#L93" class="s" transform="translate(878.36,817.32) rotate(44.87)"/><use href="#L93" class="f" transform="translate(878.36,817.32) rotate(44.87)"/>
<use href="#L94" class="s" transform="translate(921.53,742.55) rotate(15.13)"/><use href="#L94" class="f" transform="translate(921.53,742.55) rotate(15.13)"/>
<use href="#L95" class="s" transform="translate(943.87,659.17) rotate(-12.07)"/><use href="#L95" class="f" transform="translate(943.87,659.17) rotate(-12.07)"/>
</g>
<g font-size="26.56" fill="#000" stroke="#000" stroke-width="0.3">
<text x="1339.6" y="138.8" text-anchor="middle">Node type</text>
<circle cx="1279.3" cy="167.8" r="14.7" fill="#fff" stroke="#000" stroke-width="2.1"/>
<text x="1304.2" y="175.8">Cell type</text>
<rect x="1268.3" y="192.7" width="21.6" height="21.6" fill="#fff" stroke="#000" stroke-width="2.1"/>
<text x="1304.2" y="213">Gene</text>
<text x="1353.2" y="338.6" text-anchor="middle">Expression %</text>
<rect x="1300.20" y="356.90" width="20" height="20" fill="#fff" stroke="#000" stroke-width="2.1"/>
<text y="375.60" font-size="26.56"><tspan x="1335.40">25%</tspan></text>
<rect x="1296.45" y="389.95" width="27.5" height="27.5" fill="#fff" stroke="#000" stroke-width="2.1"/>
<text y="412.80" font-size="26.56"><tspan x="1335.40">50%</tspan></text>
<rect x="1293.45" y="424.95" width="33.5" height="33.5" fill="#fff" stroke="#000" stroke-width="2.1"/>
<text y="449.80" font-size="26.56"><tspan x="1335.40">75%</tspan></text>
<rect x="1291.20" y="459.70" width="38" height="38" fill="#fff" stroke="#000" stroke-width="2.1"/>
<text y="487.00" font-size="26.56"><tspan x="1350.17">00%</tspan></text><use href="#o2" x="1335.40" y="487.00"/>
</g>
<defs><linearGradient id="cb" x1="0" y1="1" x2="0" y2="0">
<stop offset="0.0000" stop-color="#fcfbfd"/>
<stop offset="0.1250" stop-color="#efedf5"/>
<stop offset="0.2500" stop-color="#dadaeb"/>
<stop offset="0.3750" stop-color="#bcbddc"/>
<stop offset="0.5000" stop-color="#9e9ac8"/>
<stop offset="0.6250" stop-color="#807dba"/>
<stop offset="0.7500" stop-color="#6a51a3"/>
<stop offset="0.8750" stop-color="#54278f"/>
<stop offset="1.0000" stop-color="#3f007d"/>
</linearGradient></defs>
<rect x="1312.0" y="736.1" width="16.00" height="398.70" fill="url(#cb)"/>
<line x1="1328.0" x2="1336.2" y1="1134.80" y2="1134.80" stroke="#000" stroke-width="1.8"/>
<g fill="#000" stroke="#000" stroke-width="0.3"><text y="1146.60" font-size="31"><tspan x="1343.50">0.0</tspan></text></g>
<line x1="1312.0" x2="1328.0" y1="1062.04" y2="1062.04" stroke="#d0d0d0" stroke-width="1.7"/>
<line x1="1328.0" x2="1336.2" y1="1062.04" y2="1062.04" stroke="#000" stroke-width="1.8"/>
<g fill="#000" stroke="#000" stroke-width="0.3"><text y="1073.84" font-size="31"><tspan x="1343.50">2.5</tspan></text></g>
<line x1="1312.0" x2="1328.0" y1="989.29" y2="989.29" stroke="#d0d0d0" stroke-width="1.7"/>
<line x1="1328.0" x2="1336.2" y1="989.29" y2="989.29" stroke="#000" stroke-width="1.8"/>
<g fill="#000" stroke="#000" stroke-width="0.3"><text y="1001.09" font-size="31"><tspan x="1343.50">5.0</tspan></text></g>
<line x1="1312.0" x2="1328.0" y1="916.53" y2="916.53" stroke="#d0d0d0" stroke-width="1.7"/>
<line x1="1328.0" x2="1336.2" y1="916.53" y2="916.53" stroke="#000" stroke-width="1.8"/>
<g fill="#000" stroke="#000" stroke-width="0.3"><text y="928.33" font-size="31"><tspan x="1343.50">7.5</tspan></text></g>
<line x1="1312.0" x2="1328.0" y1="843.78" y2="843.78" stroke="#d0d0d0" stroke-width="1.7"/>
<line x1="1328.0" x2="1336.2" y1="843.78" y2="843.78" stroke="#000" stroke-width="1.8"/>
<g fill="#000" stroke="#000" stroke-width="0.3"><text y="855.58" font-size="31"><tspan x="1360.74">0.0</tspan></text><use href="#o3" x="1343.50" y="855.58"/></g>
<line x1="1312.0" x2="1328.0" y1="771.02" y2="771.02" stroke="#d0d0d0" stroke-width="1.7"/>
<line x1="1328.0" x2="1336.2" y1="771.02" y2="771.02" stroke="#000" stroke-width="1.8"/>
<g fill="#000" stroke="#000" stroke-width="0.3"><text y="782.82" font-size="31"><tspan x="1360.74">2.5</tspan></text><use href="#o3" x="1343.50" y="782.82"/></g>
<rect x="1312.0" y="736.1" width="16.00" height="398.70" fill="none" stroke="#000" stroke-width="1.9"/>
<text transform="translate(1418.7,937.9) rotate(90)" text-anchor="middle" font-size="26.56" fill="#000" stroke="#000" stroke-width="0.3">COSG Score</text>
</g>
</svg>
</body></html>
